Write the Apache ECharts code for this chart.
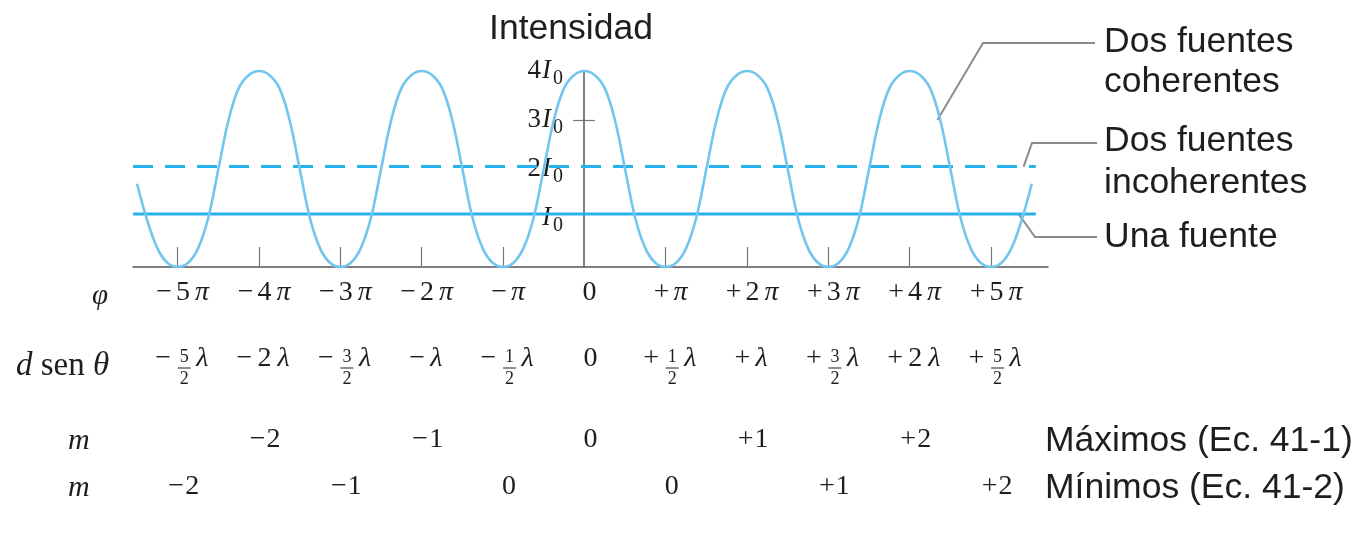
<!DOCTYPE html>
<html>
<head>
<meta charset="utf-8">
<script src="https://cdn.jsdelivr.net/npm/echarts@6/dist/echarts.min.js"></script>
<style>
  html, body { margin: 0; padding: 0; background: #ffffff; }
  #main { width: 1362px; height: 545px; }
</style>
</head>
<body>
<div id="main"></div>
<script>
// Phase difference φ, in units of π
const phiTicks = [-5, -4, -3, -2, -1, 0, 1, 2, 3, 4, 5];
const phiLabels = ['−5π', '−4π', '−3π', '−2π', '−π', '0', '+π', '+2π', '+3π', '+4π', '+5π'];
// Path difference d sen θ at the same positions
const pathLabels = ['−5/2λ', '−2λ', '−3/2λ', '−λ', '−1/2λ', '0', '+1/2λ', '+λ', '+3/2λ', '+2λ', '+5/2λ'];
// Orders of the maxima and minima
const maxPhi = [-4, -2, 0, 2, 4];
const maxOrder = ['−2', '−1', '0', '+1', '+2'];
const minPhi = [-5, -3, -1, 1, 3, 5];
const minOrder = ['−2', '−1', '0', '0', '+1', '+2'];
// Intensity axis (multiples of I0)
const intensityTicks = [1, 2, 3, 4];
const intensityCoef = ['', '2', '3', '4'];

// Two coherent sources: sampled intensity (in I0) along φ (in π), one row per π
const phiSamples = [
  -5.5, -5.375, -5.25, -5.125,
  -5, -4.875, -4.75, -4.625, -4.5, -4.375, -4.25, -4.125,
  -4, -3.875, -3.75, -3.625, -3.5, -3.375, -3.25, -3.125,
  -3, -2.875, -2.75, -2.625, -2.5, -2.375, -2.25, -2.125,
  -2, -1.875, -1.75, -1.625, -1.5, -1.375, -1.25, -1.125,
  -1, -0.875, -0.75, -0.625, -0.5, -0.375, -0.25, -0.125,
  0, 0.125, 0.25, 0.375, 0.5, 0.625, 0.75, 0.875,
  1, 1.125, 1.25, 1.375, 1.5, 1.625, 1.75, 1.875,
  2, 2.125, 2.25, 2.375, 2.5, 2.625, 2.75, 2.875,
  3, 3.125, 3.25, 3.375, 3.5, 3.625, 3.75, 3.875,
  4, 4.125, 4.25, 4.375, 4.5, 4.625, 4.75, 4.875,
  5, 5.125, 5.25, 5.375, 5.5
];
const coherent = [
  1.7, 0.95, 0.38, 0.08,
  0, 0.08, 0.38, 1.0, 2.0, 3.0, 3.65, 3.92,
  4, 3.92, 3.65, 3.0, 2.0, 1.0, 0.38, 0.08,
  0, 0.08, 0.38, 1.0, 2.0, 3.0, 3.65, 3.92,
  4, 3.92, 3.65, 3.0, 2.0, 1.0, 0.38, 0.08,
  0, 0.08, 0.38, 1.0, 2.0, 3.0, 3.65, 3.92,
  4, 3.92, 3.65, 3.0, 2.0, 1.0, 0.38, 0.08,
  0, 0.08, 0.38, 1.0, 2.0, 3.0, 3.65, 3.92,
  4, 3.92, 3.65, 3.0, 2.0, 1.0, 0.38, 0.08,
  0, 0.08, 0.38, 1.0, 2.0, 3.0, 3.65, 3.92,
  4, 3.92, 3.65, 3.0, 2.0, 1.0, 0.38, 0.08,
  0, 0.08, 0.38, 0.95, 1.7
];
// Two incoherent sources and a single source (constant levels)
const incoherentLevel = 2.05;
const singleLevel = 1.08;
const levelSpan = [-5.55, 5.55];

const INK = '#1e1e1e';
const AXIS = '#555555';
const CURVE = '#72c6ee';
const LEVEL = '#27b3ea';
const SERIF = '"Liberation Serif", "DejaVu Serif", serif';
const SANS = '"Liberation Sans", Arial, sans-serif';
const SANS_SIZE = 35.5;

const chart = echarts.init(document.getElementById('main'), null, { renderer: 'canvas' });

// "−5π" -> sign, number and italic π as separate rich tokens
function phiLabel(v) {
  const s = phiLabels[phiTicks.indexOf(v)];
  if (s === undefined) return '';
  const m = s.match(/^([−+]?)(\d*)(π?)$/);
  let out = '';
  if (m[1]) out += '{g|' + m[1] + '}';
  if (m[2]) out += (m[3] ? '{d|' + m[2] + '}' : '{r|' + m[2] + '}');
  if (m[3]) out += '{p|π}';
  return out;
}

function orderLabel(values, labels) {
  return v => {
    const s = labels[values.indexOf(v)];
    if (s === undefined) return '';
    const m = s.match(/^([−+]?)(\d+)$/);
    return (m[1] ? '{h|' + m[1] + '}' : '') + '{r|' + m[2] + '}';
  };
}

function intensityLabel(v) {
  const c = intensityCoef[intensityTicks.indexOf(v)];
  if (c === undefined) return '';
  return (c ? '{n|' + c + '}' : '') + '{i|I}{s|0}';
}

const serifRich = {
  g: { fontFamily: SERIF, fontSize: 28, color: INK, padding: [0, 4, 0, 0] },
  h: { fontFamily: SERIF, fontSize: 28, color: INK, padding: [0, 1, 0, 0] },
  r: { fontFamily: SERIF, fontSize: 28, color: INK },
  d: { fontFamily: SERIF, fontSize: 28, color: INK, padding: [0, 5, 0, 0] },
  p: { fontFamily: SERIF, fontStyle: 'italic', fontSize: 28, color: INK }
};

const rowAxis = (offset, values, labels) => ({
  type: 'value', gridIndex: 0, position: 'bottom', offset: offset,
  min: -5.55, max: 5.7,
  axisLine: { show: false, onZero: false },
  axisTick: { show: false },
  splitLine: { show: false },
  axisLabel: {
    customValues: values, formatter: orderLabel(values, labels),
    margin: 0, padding: [0, 0, 0, 12], rich: serifRich
  }
});

const option = {
  animation: false,
  backgroundColor: '#ffffff',
  grid: [
    { left: 133, top: 71, width: 915, height: 196, containLabel: false },
    // narrow grid whose left edge is φ = 0, carrying the intensity axis
    { left: 584, top: 71, width: 10, height: 196, containLabel: false }
  ],
  xAxis: [
    {
      type: 'value', gridIndex: 0, min: -5.55, max: 5.7,
      axisLine: { onZero: false, lineStyle: { color: AXIS, width: 1.5 } },
      axisTick: {
        customValues: [-5, -4, -3, -2, -1, 1, 2, 3, 4, 5],
        inside: true, length: 20, lineStyle: { color: '#777', width: 1.2 }
      },
      splitLine: { show: false },
      axisLabel: { customValues: phiTicks, formatter: phiLabel, margin: 12, padding: [0, 0, 0, 10], rich: serifRich }
    },
    rowAxis(159, maxPhi, maxOrder),
    rowAxis(206, minPhi, minOrder),
    { type: 'value', gridIndex: 1, min: 0, max: 1, show: false }
  ],
  yAxis: [
    {
      type: 'value', gridIndex: 0, min: 0, max: 4, show: false
    },
    {
      type: 'value', gridIndex: 1, min: 0, max: 4, position: 'left',
      name: 'Intensidad', nameLocation: 'end', nameGap: 24,
      nameTextStyle: { fontFamily: SANS, fontSize: SANS_SIZE, color: INK, padding: [0, 26, 0, 0] },
      axisLine: { onZero: false, lineStyle: { color: AXIS, width: 1.5 } },
      axisTick: { customValues: [3], length: 11, lineStyle: { color: '#777', width: 1.2 } },
      splitLine: { show: false },
      axisLabel: {
        customValues: intensityTicks, formatter: intensityLabel, margin: 21,
        rich: {
          n: { fontFamily: SERIF, fontSize: 27, color: INK, padding: [0, 1, 0, 0] },
          i: { fontFamily: SERIF, fontStyle: 'italic', fontSize: 27, color: INK },
          s: { fontFamily: SERIF, fontSize: 20, color: INK, padding: [15, 0, 0, 2] }
        }
      }
    },
    {
      type: 'value', gridIndex: 1, min: 0, max: 4, position: 'left',
      axisLine: { show: false, onZero: false },
      axisTick: { customValues: [3], inside: true, length: 11, lineStyle: { color: '#777', width: 1.2 } },
      axisLabel: { show: false },
      splitLine: { show: false }
    }
  ],
  series: [
    {
      name: 'Una fuente', type: 'line', xAxisIndex: 0, yAxisIndex: 0,
      data: levelSpan.map(x => [x, singleLevel]),
      symbol: 'none', lineStyle: { color: LEVEL, width: 3 }, z: 2
    },
    {
      name: 'Dos fuentes incoherentes', type: 'line', xAxisIndex: 0, yAxisIndex: 0,
      data: levelSpan.map(x => [x, incoherentLevel]),
      symbol: 'none', lineStyle: { color: LEVEL, width: 3, type: [20, 12] }, z: 2
    },
    {
      name: 'Dos fuentes coherentes', type: 'line', xAxisIndex: 0, yAxisIndex: 0,
      data: phiSamples.map((x, i) => [x, coherent[i]]),
      smooth: 0.4, symbol: 'none', clip: false,
      lineStyle: { color: CURVE, width: 2.6 }, z: 3
    }
  ]
};

chart.setOption(option);

// Text rows, fractions and leader lines placed with the chart's own scales
function overlay() {
  const px = (x, y) => chart.convertToPixel({ xAxisIndex: 0, yAxisIndex: 0 }, [x, y]);
  const els = [];
  const text = (t, x, y, size, opts) => ({
    type: 'text', silent: true,
    style: Object.assign({
      text: t, x: x, y: y, fill: INK, fontFamily: SERIF, fontSize: size,
      align: 'left', verticalAlign: 'middle'
    }, opts || {})
  });

  // d sen θ row
  const rowY = 359;
  pathLabels.forEach((lab, i) => {
    const m = lab.match(/^([−+]?)(\d*)(?:\/(\d+))?(λ?)$/);
    const sign = m[1], num = m[2], den = m[3], lam = m[4];
    const parts = [];
    if (sign) parts.push({ k: 'sign', w: 16, gap: den ? 7 : 5 });
    if (den) parts.push({ k: 'frac', w: 12, gap: 6 });
    else if (num) parts.push({ k: 'int', w: 14 * num.length, gap: 6 });
    if (lam) parts.push({ k: 'lam', w: 16, gap: 0 });
    const total = parts.reduce((a, p, j) => a + p.w + (j < parts.length - 1 ? p.gap : 0), 0);
    const cx = px(phiTicks[i], 0)[0] + 6;
    let x = cx - total / 2;
    parts.forEach(p => {
      if (p.k === 'sign') els.push(text(sign, x, rowY, 28));
      if (p.k === 'int') els.push(text(num, x, rowY, 28));
      if (p.k === 'lam') els.push(text('λ', x, rowY, 28, { fontStyle: 'italic' }));
      if (p.k === 'frac') {
        els.push(text(num, x + p.w / 2, rowY - 2, 18, { align: 'center' }));
        els.push({ type: 'line', silent: true,
          shape: { x1: x - 0.5, y1: rowY + 9, x2: x + p.w + 0.5, y2: rowY + 9 },
          style: { stroke: INK, lineWidth: 1 } });
        els.push(text(den, x + p.w / 2, rowY + 20, 18, { align: 'center' }));
      }
      x += p.w + p.gap;
    });
  });

  // Row captions on the left
  els.push(text('φ', 92, 296, 29, { fontStyle: 'italic' }));
  els.push({
    type: 'text', silent: true,
    style: {
      text: '{i|d} sen {i|θ}', x: 16, y: 366, fill: INK, fontFamily: SERIF, fontSize: 33,
      verticalAlign: 'middle',
      rich: { i: { fontFamily: SERIF, fontStyle: 'italic', fontSize: 33, fill: INK } }
    }
  });
  els.push(text('m', 68, 441, 30, { fontStyle: 'italic' }));
  els.push(text('m', 68, 488, 30, { fontStyle: 'italic' }));

  // Row captions on the right
  els.push(text('Máximos (Ec. 41-1)', 1045, 441, SANS_SIZE, { fontFamily: SANS }));
  els.push(text('Mínimos (Ec. 41-2)', 1045, 488, SANS_SIZE, { fontFamily: SANS }));

  // Series captions and leader lines
  els.push(text('Dos fuentes\ncoherentes', 1104, 62, SANS_SIZE, { fontFamily: SANS, lineHeight: 40 }));
  els.push(text('Dos fuentes\nincoherentes', 1104, 162, SANS_SIZE, { fontFamily: SANS, lineHeight: 42 }));
  els.push(text('Una fuente', 1104, 237, SANS_SIZE, { fontFamily: SANS }));

  const leader = pts => ({ type: 'polyline', silent: true,
    shape: { points: pts }, style: { stroke: '#8c8c8c', lineWidth: 2, fill: null } });
  els.push(leader([px(4.34, 3.0), [983, 43], [1095, 43]]));
  els.push(leader([px(5.4, incoherentLevel), [1032, 143], [1097, 143]]));
  els.push(leader([px(5.34, singleLevel), [1035, 237], [1097, 237]]));

  chart.setOption({ graphic: { elements: els } });
}
overlay();
</script>
</body>
</html>
